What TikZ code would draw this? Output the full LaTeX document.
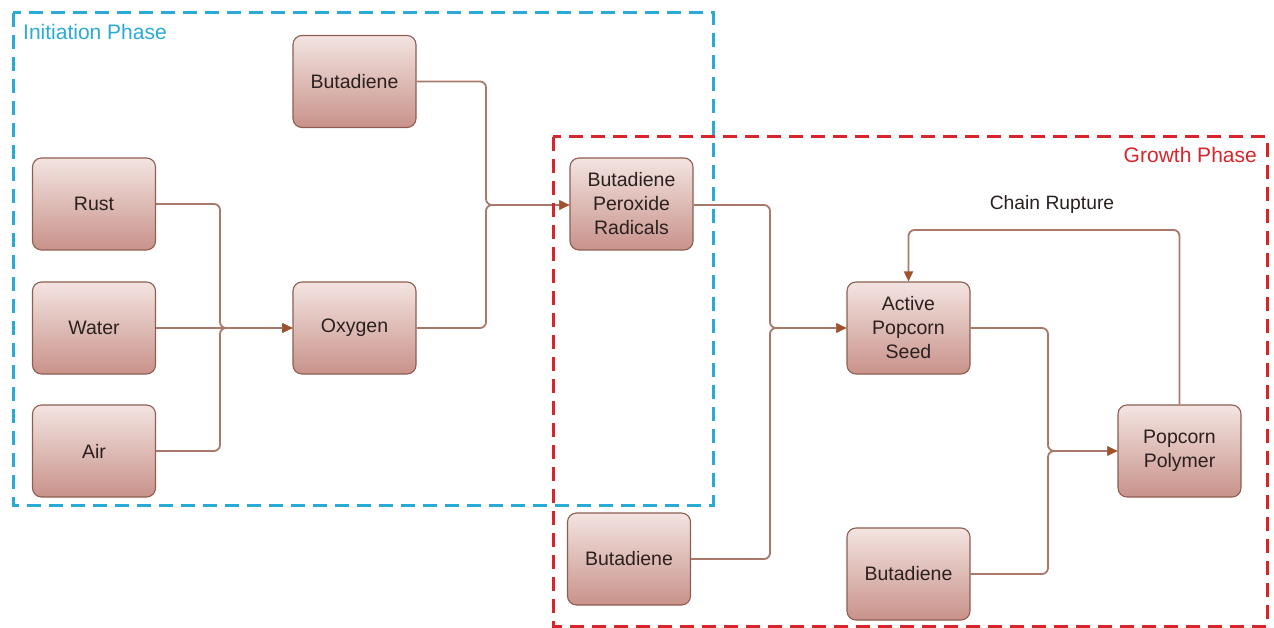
\documentclass[tikz,border=0pt]{standalone}
\usepackage{fontspec}
\setmainfont{Liberation Sans}
\usetikzlibrary{arrows.meta}
\definecolor{boxtop}{HTML}{F3E4E1}
\definecolor{boxbot}{HTML}{C8928A}
\definecolor{boxedge}{HTML}{8E5E50}
\definecolor{linkcol}{HTML}{A8796A}
\definecolor{tipcol}{HTML}{A0522D}
\definecolor{initblue}{HTML}{2AAAD6}
\definecolor{growred}{HTML}{D8242B}
\definecolor{txt}{HTML}{2B2020}
\begin{document}
\begin{tikzpicture}[x=1pt,y=-1pt,
  stage/.style={draw=boxedge, line width=1.1pt, rounded corners=9pt,
    top color=boxtop, bottom color=boxbot,
    minimum width=123pt, minimum height=92pt, inner sep=0pt,
    align=center, text=txt, font=\fontsize{19.5}{24}\selectfont},
  link/.style={draw=linkcol, line width=1.8pt, rounded corners=6pt},
  flow/.style={link, -{Triangle[length=10pt,width=9pt,color=tipcol]}},
  phase/.style={line width=3pt, dash pattern=on 14pt off 8pt},
  lbl/.style={font=\fontsize{19.3}{22}\selectfont, inner sep=0pt},
  phaselbl/.style={font=\fontsize{21}{24}\selectfont, inner sep=0pt}]
\useasboundingbox (0,0) rectangle (1274,628);

% process steps
\node[stage] (bta)  at (354.5,81.5) {Butadiene};
\node[stage] (rust) at (94,204)     {Rust};
\node[stage] (water) at (94,328)    {Water};
\node[stage] (air)  at (94,451)     {Air};
\node[stage] (oxy)  at (354.5,328)  {Oxygen};
\node[stage] (perox) at (631.5,204) {Butadiene\\Peroxide\\Radicals};
\node[stage] (btb)  at (629,559)    {Butadiene};
\node[stage] (seed) at (908.5,328)  {Active\\Popcorn\\Seed};
\node[stage] (poly) at (1179.5,451) {Popcorn\\Polymer};
\node[stage] (btc)  at (908.5,574)  {Butadiene};

% merge points
\coordinate (j1) at (220,328);
\coordinate (j2) at (486,205);
\coordinate (j3) at (770,328);
\coordinate (j4) at (1048,451);
\coordinate (ret) at (0,230);

% connectors
\draw[flow] (rust.east) -| (j1) -- (oxy.west);
\draw[flow] (air.east) -| (j1) -- (oxy.west);
\draw[flow] (water.east) -- (oxy.west);

\draw[flow] (bta.east) -| (j2) -- (perox.west |- j2);
\draw[flow] (oxy.east) -| (j2) -- (perox.west |- j2);

\draw[flow] (perox.east |- j2) -| (j3) -- (seed.west);
\draw[flow] (btb.east) -| (j3) -- (seed.west);

\draw[flow] (seed.east) -| (j4) -- (poly.west);
\draw[flow] (btc.east) -| (j4) -- (poly.west);

\draw[flow] (poly.north) -- (poly.north |- ret) -| (seed.north);
\node[lbl, text=txt] (rupt) at (1052,205) {Chain Rupture};

% phase frames
\draw[phase, initblue] (13,13) rectangle (713,505);
\draw[phase, growred] (553,137) rectangle (1267,626);
\node[phaselbl, anchor=west, text=initblue] (initlbl) at (23,32) {Initiation Phase};
\node[phaselbl, anchor=east, text=growred] (growlbl) at (1257,155) {Growth Phase};
\end{tikzpicture}
\end{document}
